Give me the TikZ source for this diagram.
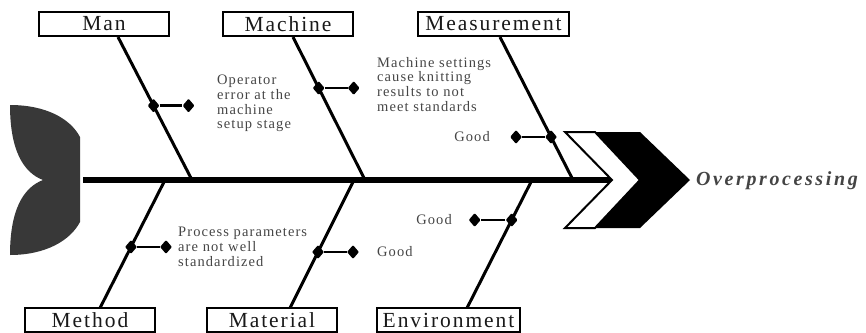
\documentclass[tikz,border=0pt]{standalone}
\usepackage{fontspec}
\setmainfont{Liberation Serif}
\newfontfamily\labelfont[LetterSpace=9]{Liberation Serif}
\newfontfamily\causefont[LetterSpace=7.5]{Liberation Serif}
\newfontfamily\effectfont[LetterSpace=13]{Liberation Serif}
\usetikzlibrary{shapes.geometric,calc}
\definecolor{tailgray}{HTML}{383838}
\definecolor{causegray}{HTML}{454545}
\definecolor{effectgray}{HTML}{444444}
\tikzset{
  catbox/.style={draw=black, line width=1.3pt, fill=white, minimum height=24pt,
    inner sep=0pt, font=\labelfont\fontsize{21.5}{24}\selectfont, text=black!90},
  rib/.style={line width=3pt},
  spine/.style={line width=5.5pt},
  twig/.style={line width=2.5pt},
  dia/.style={diamond, fill=black, minimum width=12pt, minimum height=14pt,
    inner sep=0pt, rounded corners=1pt},
  causetext/.style={inner sep=0pt, align=left, text=causegray,
    font=\causefont\fontsize{14.5}{14.7}\selectfont},
}
\begin{document}
\begin{tikzpicture}[x=1pt, y=-1pt]
\useasboundingbox (0,0) rectangle (866,332);

% fish tail
\fill[tailgray] (10,105) .. controls (45,105) and (70,118) .. (80,137)
  -- (80,222) .. controls (70,241) and (45,255) .. (10,255)
  .. controls (10,212) and (22,188) .. (43,180)
  .. controls (22,172) and (10,148) .. cycle;

% spine
\coordinate (spineStart) at (83,180);
\coordinate (spineEnd) at (612,180);
\draw[spine] (spineStart) -- (spineEnd);

% head chevrons
\filldraw[fill=white, draw=black, line width=2pt, line join=miter]
  (565,132) -- (595,132) -- (640,180) -- (595,228) -- (565,228) -- (612,180) -- cycle;
\fill[black] (595,132) -- (640,132) -- (690,180) -- (640,228) -- (595,228) -- (640,180) -- cycle;
\node[anchor=west, inner sep=0pt, text=effectgray,
  font=\effectfont\fontsize{20}{24}\selectfont\bfseries\itshape] (effect) at (696,181) {Overprocessing};

% category boxes
\node[catbox, minimum width=130pt] (man) at (104,24) {Man};
\node[catbox, minimum width=130pt] (machine) at (288,24) {Machine};
\node[catbox, minimum width=151pt] (measurement) at (493.5,24) {Measurement};
\node[catbox, minimum width=130pt] (method) at (90,320) {Method};
\node[catbox, minimum width=130pt] (material) at (272,320) {Material};
\node[catbox, minimum width=143pt] (environment) at (448.5,320) {Environment};

% rib end points
\coordinate (manTop) at (118,37);   \coordinate (manFoot) at (192,180);
\coordinate (machTop) at (293,37);  \coordinate (machFoot) at (365,180);
\coordinate (measTop) at (500,37);  \coordinate (measFoot) at (573,180);
\coordinate (methFoot) at (100,308); \coordinate (methTop) at (165,180);
\coordinate (matFoot) at (290,308);  \coordinate (matTop) at (354,180);
\coordinate (envFoot) at (467,308);  \coordinate (envTop) at (532,180);

\draw[rib] (manTop) -- (manFoot);
\draw[rib] (machTop) -- (machFoot);
\draw[rib] (measTop) -- (measFoot);
\draw[rib] (methTop) -- (methFoot);
\draw[rib] (matTop) -- (matFoot);
\draw[rib] (envTop) -- (envFoot);

% sub-causes
\node[dia] (manJ) at ($(manTop)!0.48!(manFoot)$) {};
\node[dia] (manE) at ([xshift=35pt]manJ) {};
\draw[twig] (manJ) -- (manE);

\node[dia] (machJ) at ($(machTop)!0.357!(machFoot)$) {};
\node[dia] (machE) at ([xshift=35pt]machJ) {};
\draw[twig] (machJ) -- (machE);

\node[dia] (measJ) at ($(measTop)!0.699!(measFoot)$) {};
\node[dia] (measE) at ([xshift=-35pt]measJ) {};
\draw[twig] (measJ) -- (measE);

\node[dia] (methJ) at ($(methTop)!0.523!(methFoot)$) {};
\node[dia] (methE) at ([xshift=35pt]methJ) {};
\draw[twig] (methJ) -- (methE);

\node[dia] (matJ) at ($(matTop)!0.5625!(matFoot)$) {};
\node[dia] (matE) at ([xshift=35pt]matJ) {};
\draw[twig] (matJ) -- (matE);

\node[dia] (envJ) at ($(envTop)!0.3125!(envFoot)$) {};
\node[dia] (envE) at ([xshift=-37pt]envJ) {};
\draw[twig] (envJ) -- (envE);

% cause texts
\node[causetext, anchor=north west] (manT) at (217,75)
  {Operator\\error at the\\machine\\setup stage};
\node[causetext, anchor=north west] (machT) at (377,57)
  {Machine settings\\cause knitting\\results to not\\meet standards};
\node[causetext, anchor=east] (measT) at (490,137) {Good};
\node[causetext, anchor=north west] (methT) at (178,227)
  {Process parameters\\are not well\\standardized};
\node[causetext, anchor=west] (matT) at (377,252) {Good};
\node[causetext, anchor=east] (envT) at (452,220) {Good};
\end{tikzpicture}
\end{document}
